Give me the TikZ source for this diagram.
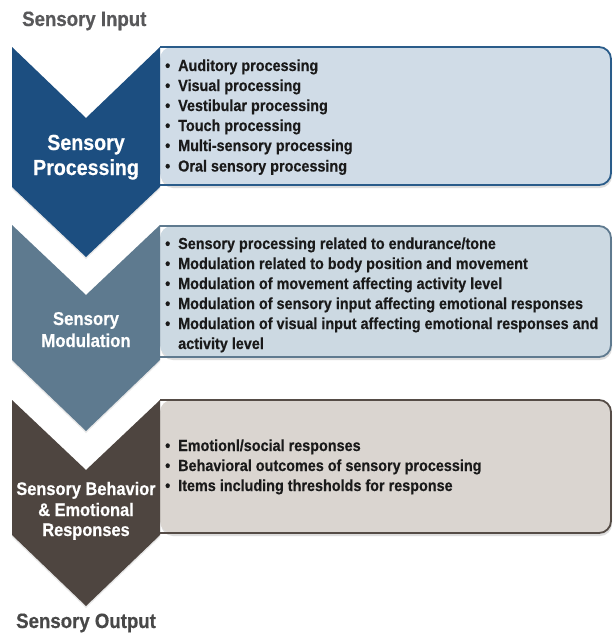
\documentclass[tikz,border=0pt]{standalone}
\usepackage{fontspec}
\setmainfont{Liberation Sans}[FakeStretch=0.9, BoldFeatures={FakeBold=0.5}]
\usetikzlibrary{shadows}

\definecolor{procBlue}{HTML}{1C4E80}
\definecolor{procBorder}{HTML}{2A5C8A}
\definecolor{procFill}{HTML}{D0DCE7}
\definecolor{modSlate}{HTML}{5E7A8F}
\definecolor{modBorder}{HTML}{5F7A8F}
\definecolor{modFill}{HTML}{CCD9E2}
\definecolor{behBrown}{HTML}{4E4540}
\definecolor{behBorder}{HTML}{554C46}
\definecolor{behFill}{HTML}{DAD5D0}
\definecolor{inputGray}{HTML}{58585A}
\definecolor{outputGray}{HTML}{484848}
\definecolor{itemInk}{HTML}{1A1A1A}

\newcommand{\bul}{\makebox[13pt][l]{•}}

\tikzset{
  panel shadow/.style={drop shadow={shadow xshift=1pt, shadow yshift=-3pt, opacity=.22, fill=black!60}},
  chevron shadow/.style={drop shadow={shadow xshift=0pt, shadow yshift=-2pt, opacity=.15, fill=black!60}},
  panel line/.style={line width=1.8pt, rounded corners=12pt},
  chevlabel/.style={anchor=base, inner sep=0pt, text=white, font=\bfseries\fontsize{#1}{#1}\selectfont},
  item/.style={anchor=base west, inner sep=0pt, text=itemInk, font=\bfseries\fontsize{16}{20}\selectfont},
  heading/.style={anchor=base west, inner sep=0pt, font=\bfseries\fontsize{20.7}{24}\selectfont}
}

\begin{document}
\begin{tikzpicture}[x=1pt, y=-1pt]
\useasboundingbox (0,0) rectangle (613,635);
\fill[white] (0,0) rectangle (613,635);

% ---------- headings ----------
\node[heading, text=inputGray] (input) at (22,26) {Sensory Input};
\node[heading, text=outputGray] (output) at (16,628) {Sensory Output};

% ---------- text panels (left edge hidden under the chevrons) ----------
\fill[procFill, panel shadow, rounded corners=12pt] (160,47) -- (611,47) -- (611,185) -- (160,185) -- cycle;
\draw[procBorder, panel line] (160,47) -- (611,47) -- (611,185) -- (160,185);

\fill[modFill, panel shadow, rounded corners=12pt] (160,226) -- (611,226) -- (611,357) -- (160,357) -- cycle;
\draw[modBorder, panel line] (160,226) -- (611,226) -- (611,357) -- (160,357);

\fill[behFill, panel shadow, rounded corners=12pt] (160,400) -- (611,400) -- (611,533) -- (160,533) -- cycle;
\draw[behBorder, panel line] (160,400) -- (611,400) -- (611,533) -- (160,533);

% ---------- chevrons ----------
\fill[procBlue, chevron shadow] (12,47) -- (86,118) -- (160,47) -- (160,187) -- (86,257) -- (12,187) -- cycle;
\fill[modSlate, chevron shadow] (12,225) -- (86,295) -- (160,225) -- (160,360) -- (86,431) -- (12,360) -- cycle;
\fill[behBrown, chevron shadow] (12,400) -- (86,470) -- (160,400) -- (160,535) -- (86,606) -- (12,535) -- cycle;

% ---------- chevron labels ----------
\node[chevlabel=21.8] (procA) at (86,150) {Sensory};
\node[chevlabel=21.8] (procB) at (86,175) {Processing};
\node[chevlabel=18.6] (modA) at (86,325) {Sensory};
\node[chevlabel=18.6] (modB) at (86,347) {Modulation};
\node[chevlabel=18.2] (behA) at (86,495) {Sensory Behavior};
\node[chevlabel=18.2] (behB) at (86,516) {\& Emotional};
\node[chevlabel=18.2] (behC) at (86,536) {Responses};

% ---------- processing items ----------
\node[item] (p1) at (165,71)   {\bul Auditory processing};
\node[item] (p2) at (165,91)   {\bul Visual processing};
\node[item] (p3) at (165,111)  {\bul Vestibular processing};
\node[item] (p4) at (165,131)  {\bul Touch processing};
\node[item] (p5) at (165,151)  {\bul Multi-sensory processing};
\node[item] (p6) at (165,171.5){\bul Oral sensory processing};

% ---------- modulation items ----------
\node[item] (m1) at (165,249) {\bul Sensory processing related to endurance/tone};
\node[item] (m2) at (165,269) {\bul Modulation related to body position and movement};
\node[item] (m3) at (165,289) {\bul Modulation of movement affecting activity level};
\node[item] (m4) at (165,309) {\bul Modulation of sensory input affecting emotional responses};
\node[item] (m5) at (165,329) {\bul Modulation of visual input affecting emotional responses and};
\node[item] (m6) at (178,349) {activity level};

% ---------- behaviour items ----------
\node[item] (b1) at (165,451) {\bul Emotionl/social responses};
\node[item] (b2) at (165,471) {\bul Behavioral outcomes of sensory processing};
\node[item] (b3) at (165,491) {\bul Items including thresholds for response};
\end{tikzpicture}
\end{document}
